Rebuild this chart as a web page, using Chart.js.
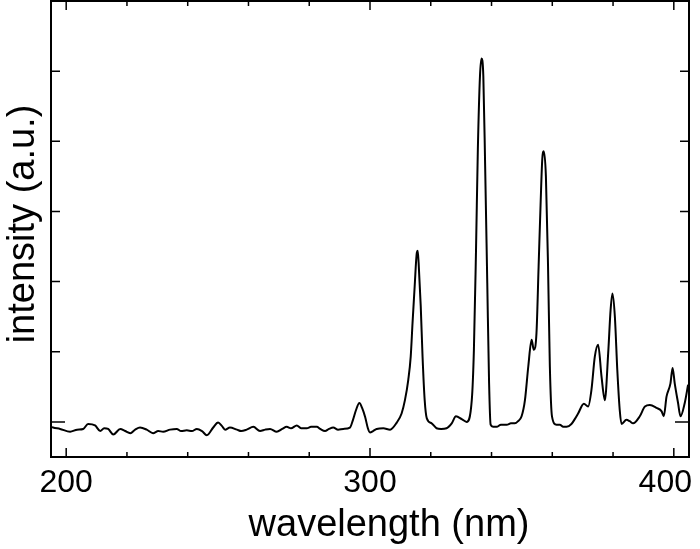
<!DOCTYPE html>
<html>
<head>
  <title>Spectrum</title>
  <script src="https://cdn.jsdelivr.net/npm/chart.js"></script>
  <style>
    html, body { margin: 0; padding: 0; background: #fff; }
    #wrap { width: 700px; height: 549px; }
  </style>
</head>
<body>
<div id="wrap"><canvas id="spectrum"></canvas></div>
<script>
  // wavelength (nm)
  const wavelength = [
    195.1, 195.7, 198.0, 201.3, 203.6, 205.6, 207.2, 209.5, 211.2, 212.5,
    213.8, 215.5, 217.8, 219.4, 221.1, 222.7, 224.3, 226.5, 228.6, 230.3,
    231.9, 234.2, 236.4, 237.8, 239.7, 241.4, 243.0, 244.7, 246.3, 248.4,
    250.0, 251.3, 252.3, 253.9, 256.2, 257.6, 259.4, 261.6, 263.8, 265.5,
    267.1, 269.3, 271.1, 272.6, 274.0, 275.9, 277.3, 279.2, 280.6, 282.5,
    283.6, 285.2, 286.5, 287.9, 289.5, 291.2, 293.4, 294.4, 295.4, 296.5,
    297.4, 298.4, 299.3, 300.0, 301.0, 302.2, 304.4, 306.6, 308.8, 310.4,
    311.5, 312.6, 313.4, 314.0, 314.7, 315.4, 315.7, 316.0, 316.7, 317.3,
    318.0, 318.7, 320.3, 321.9, 323.4, 325.2, 326.9, 328.3, 330.2, 331.8,
    333.5, 334.2, 334.9, 335.5, 336.2, 336.7, 337.3, 337.9, 338.6, 339.2,
    339.7, 340.5, 341.7, 343.1, 345.0, 346.4, 347.7, 348.7, 349.9, 351.0,
    352.1, 353.2, 353.9, 354.8, 355.5, 356.2, 356.7, 357.2, 357.9, 358.6,
    359.2, 359.9, 361.4, 362.5, 363.6, 364.7, 366.3, 367.4, 368.5, 370.4,
    371.8, 372.9, 374.0, 375.1, 376.2, 377.3, 378.4, 379.2, 379.8, 380.6,
    381.4, 382.2, 382.8, 384.4, 385.5, 386.6, 388.8, 390.5, 392.1, 394.3,
    396.0, 396.7, 397.6, 398.9, 399.6, 400.3, 401.4, 402.2, 403.6, 404.7
  ];

  // intensity (a.u.), same order
  const intensity = [
    -0.07, -0.08, -0.10, -0.14, -0.11, -0.10, -0.03, -0.05, -0.13, -0.09,
    -0.10, -0.18, -0.10, -0.13, -0.16, -0.11, -0.08, -0.11, -0.16, -0.13,
    -0.14, -0.11, -0.10, -0.13, -0.12, -0.13, -0.10, -0.13, -0.19, -0.08,
    -0.01, -0.06, -0.11, -0.08, -0.11, -0.13, -0.11, -0.07, -0.13, -0.11,
    -0.10, -0.14, -0.10, -0.07, -0.09, -0.05, -0.09, -0.09, -0.07, -0.07,
    -0.10, -0.13, -0.10, -0.08, -0.11, -0.10, -0.08, 0.03, 0.17, 0.27,
    0.20, 0.07, -0.09, -0.15, -0.13, -0.10, -0.09, -0.11, -0.01, 0.12,
    0.31, 0.60, 0.93, 1.41, 1.93, 2.41, 2.44, 2.27, 1.65, 0.93,
    0.31, 0.05, -0.02, -0.09, -0.10, -0.09, -0.02, 0.08, 0.04, 0.00,
    0.31, 1.03, 2.46, 3.89, 4.93, 5.18, 4.93, 3.65, 1.98, 0.55,
    -0.04, -0.07, -0.07, -0.04, -0.04, -0.02, -0.02, 0.01, 0.08, 0.31,
    0.79, 1.17, 1.03, 1.27, 2.22, 3.17, 3.74, 3.86, 3.50, 2.22,
    0.79, 0.08, -0.04, -0.04, -0.07, -0.07, -0.03, 0.04, 0.12, 0.26,
    0.22, 0.46, 0.93, 1.10, 0.65, 0.31, 0.98, 1.60, 1.83, 1.50,
    0.74, 0.17, -0.03, 0.03, 0.01, -0.02, 0.08, 0.22, 0.24, 0.20,
    0.15, 0.08, 0.36, 0.55, 0.77, 0.55, 0.27, 0.08, 0.27, 0.53
  ];

  const xTicks = [200, 220, 240, 260, 280, 300, 320, 340, 360, 380, 400];
  const xLabels = [200, 300, 400];
  const yTicks = [0, 1, 2, 3, 4, 5];

  const points = wavelength.map((w, i) => ({ x: w, y: intensity[i] }));

  // frame, inward ticks and labels, placed with the chart's own scales
  const framePlugin = {
    id: 'frame',
    afterDraw(chart) {
      const ctx = chart.ctx;
      const a = chart.chartArea;
      const xs = chart.scales.x;
      const ys = chart.scales.y;
      ctx.save();
      ctx.strokeStyle = '#000';
      ctx.lineWidth = 1.5;
      ctx.beginPath();
      xTicks.forEach(v => {
        const px = xs.getPixelForValue(v);
        const len = xLabels.includes(v) ? 9 : 5;
        ctx.moveTo(px, a.bottom); ctx.lineTo(px, a.bottom - len);
        ctx.moveTo(px, a.top); ctx.lineTo(px, a.top + len);
      });
      yTicks.forEach(v => {
        const py = ys.getPixelForValue(v);
        const len = v === 0 ? 14 : 9;
        ctx.moveTo(a.left, py); ctx.lineTo(a.left + len, py);
        ctx.moveTo(a.right, py); ctx.lineTo(a.right - len, py);
      });
      ctx.stroke();

      ctx.lineWidth = 2;
      ctx.strokeRect(a.left, a.top, a.right - a.left, a.bottom - a.top);

      ctx.fillStyle = '#000';
      ctx.font = '32px "Liberation Sans", Arial, sans-serif';
      ctx.textAlign = 'center';
      ctx.textBaseline = 'alphabetic';
      xLabels.forEach(v => {
        let px = xs.getPixelForValue(v);
        const w = ctx.measureText(String(v)).width;
        if (px + w / 2 > a.right + 3) px = a.right + 3 - w / 2;
        ctx.fillText(String(v), px, a.bottom + 35);
      });

      ctx.font = '38px "Liberation Sans", Arial, sans-serif';
      ctx.fillText('wavelength (nm)', 389, 536);

      ctx.translate(34, (a.top + a.bottom) / 2 - 5);
      ctx.rotate(-Math.PI / 2);
      ctx.fillText('intensity (a.u.)', 0, 0);
      ctx.restore();
    }
  };

  new Chart(document.getElementById('spectrum'), {
    type: 'line',
    data: {
      datasets: [{
        label: 'intensity',
        data: points,
        borderColor: '#000',
        borderWidth: 2,
        pointRadius: 0,
        fill: false,
        cubicInterpolationMode: 'monotone'
      }]
    },
    options: {
      responsive: true,
      maintainAspectRatio: false,
      animation: false,
      layout: { padding: { left: 51, right: 11, top: 1, bottom: 92 } },
      plugins: { legend: { display: false }, tooltip: { enabled: false } },
      scales: {
        x: { type: 'linear', min: 195, max: 405, display: false },
        y: { type: 'linear', min: -0.5, max: 6.0, display: false }
      }
    },
    plugins: [framePlugin]
  });
</script>
</body>
</html>
